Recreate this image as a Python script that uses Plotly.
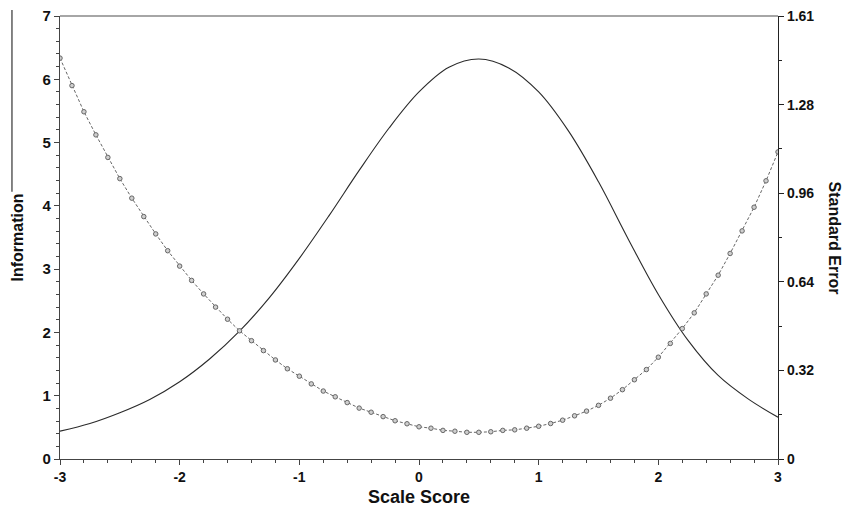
import plotly.graph_objects as go

# Test information curve
info_x = [-3.0, -2.75, -2.5, -2.25, -2.0, -1.75, -1.5, -1.25, -1.0, -0.75, -0.5, -0.25,
          0.0, 0.25, 0.5, 0.75, 1.0, 1.25, 1.5, 1.75, 2.0, 2.25, 2.5, 2.75, 3.0]
info_y = [0.44, 0.56, 0.73, 0.94, 1.22, 1.58, 2.02, 2.55, 3.17, 3.85, 4.56, 5.23,
          5.80, 6.19, 6.32, 6.18, 5.80, 5.18, 4.38, 3.47, 2.60, 1.87, 1.32, 0.95, 0.66]

# Standard error curve, x = -3 .. 3 step 0.1
se_x = [round(-3 + 0.1 * i, 1) for i in range(61)]
se_y = [1.457, 1.357, 1.262, 1.178, 1.096, 1.019, 0.948, 0.881, 0.818, 0.757,
        0.701, 0.649, 0.600, 0.552, 0.508, 0.466, 0.430, 0.394, 0.360, 0.328,
        0.301, 0.273, 0.247, 0.226, 0.205, 0.185, 0.170, 0.154, 0.139, 0.128,
        0.117, 0.112, 0.104, 0.101, 0.097, 0.097, 0.099, 0.104, 0.106, 0.112,
        0.119, 0.129, 0.141, 0.157, 0.174, 0.195, 0.221, 0.252, 0.288, 0.325,
        0.370, 0.420, 0.474, 0.531, 0.600, 0.668, 0.747, 0.829, 0.915, 1.011, 1.116]

x_ticks = [-3, -2, -1, 0, 1, 2, 3]
left_ticks = [0, 1, 2, 3, 4, 5, 6, 7]
right_max = 1.61
right_ticktext = ['0', '0.32', '0.64', '0.96', '1.28', '1.61']
right_tickvals = [right_max * i / 5 for i in range(6)]

FONT = "Liberation Sans"

fig = go.Figure()
fig.add_trace(go.Scatter(
    x=info_x, y=info_y, mode='lines',
    line=dict(color='#2a2a2a', width=1.1, shape='spline', smoothing=1.0),
    showlegend=False, hoverinfo='skip'))
fig.add_trace(go.Scatter(
    x=se_x, y=se_y, yaxis='y2', mode='lines+markers',
    line=dict(color='#666666', width=1, dash='3px,2px'),
    marker=dict(symbol='circle', size=4.5, color='#cfcfcf', line=dict(color='#666666', width=1)),
    showlegend=False, hoverinfo='skip'))

fig.update_layout(
    width=844, height=508,
    margin=dict(l=60, r=66, t=16, b=49, autoexpand=False),
    paper_bgcolor='white', plot_bgcolor='white',
    font=dict(family=FONT),
    xaxis=dict(
        range=[-3, 3], tickvals=x_ticks, ticktext=[str(v) for v in x_ticks],
        automargin=False,
        showgrid=False, zeroline=False, showline=True, linecolor='#444444', linewidth=1.2,
        ticks='outside', ticklen=5, tickcolor='#444444',
        tickfont=dict(family=FONT, size=14, color='#111111', weight='bold'),
        minor=dict(dtick=0.2, tick0=0, ticks='outside', ticklen=3, tickcolor='#444444'),
        title=dict(text='<b>Scale Score</b>', font=dict(family=FONT, size=18, color='#111111'),
                   standoff=6),
    ),
    yaxis=dict(
        range=[0, 7], tickvals=left_ticks, ticktext=[str(v) for v in left_ticks],
        automargin=False,
        showgrid=False, zeroline=False, showline=True, linecolor='#444444', linewidth=1.2,
        ticks='outside', ticklen=5, tickcolor='#444444',
        tickfont=dict(family=FONT, size=15, color='#111111', weight='bold'),
        minor=dict(dtick=0.2, tick0=0, ticks='outside', ticklen=3, tickcolor='#444444'),
        title=dict(text='<b>Information</b>', font=dict(family=FONT, size=16, color='#111111'),
                   standoff=14),
    ),
    yaxis2=dict(
        range=[0, right_max], overlaying='y', side='right', anchor='x',
        automargin=False,
        tickvals=right_tickvals, ticktext=right_ticktext,
        showgrid=False, zeroline=False, showline=True, linecolor='#222222', linewidth=1.2,
        ticks='outside', ticklen=5, tickcolor='#222222',
        tickfont=dict(family=FONT, size=14, color='#111111', weight='bold'),
        minor=dict(dtick=right_max / 10, tick0=0, ticks='outside', ticklen=3, tickcolor='#222222'),
    ),
    shapes=[
        dict(type='line', xref='paper', yref='paper', x0=0, x1=1, y0=1, y1=1,
             line=dict(color='#888888', width=1.5)),
        dict(type='line', xref='paper', yref='paper', x0=-0.0669, x1=-0.0669, y0=1.0135, y1=0.603,
             line=dict(color='#333333', width=1.2)),
    ],
    annotations=[
        dict(text='<b>Standard Error</b>', xref='paper', yref='paper', x=1.0 + 56 / 718, y=0.5,
             textangle=90, showarrow=False, xanchor='center', yanchor='middle',
             font=dict(family=FONT, size=16, color='#111111')),
    ],
)

fig.write_html("out.html", config={"displayModeBar": False},
               post_script="document.body.style.margin='0';")
